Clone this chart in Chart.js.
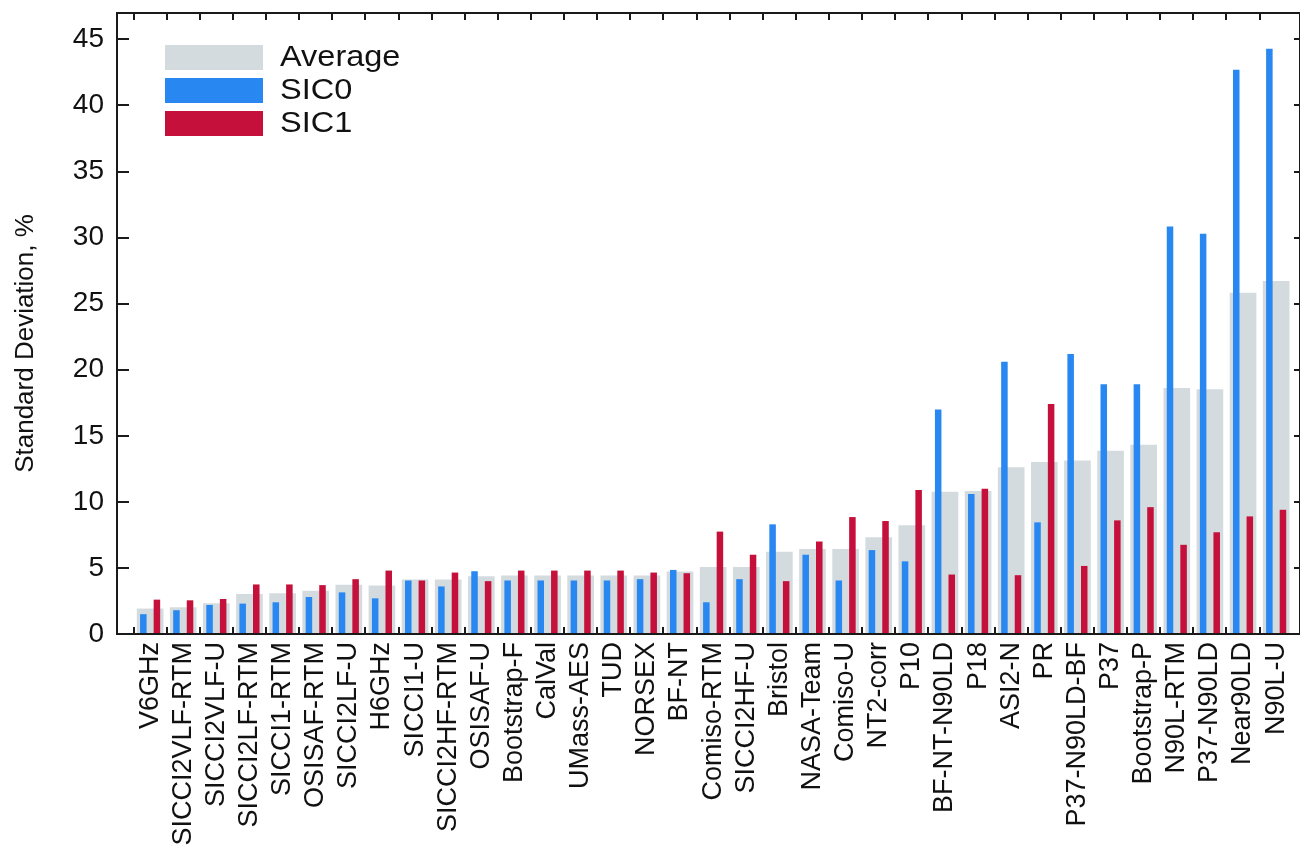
<!DOCTYPE html>
<html>
<head>
<meta charset="utf-8">
<title>Standard deviation by algorithm</title>
<script src="https://cdn.jsdelivr.net/npm/chart.js@4.4.1/dist/chart.umd.min.js"></script>
<style>
  html, body { margin: 0; padding: 0; background: #ffffff; }
  #wrap { width: 1300px; height: 849px; }
</style>
</head>
<body>
<div id="wrap"><canvas id="chart" width="1300" height="849"></canvas></div>
<script>
// Algorithms, ordered by their average standard deviation
const categories = [
  'V6GHz', 'SICCI2VLF-RTM', 'SICCI2VLF-U', 'SICCI2LF-RTM', 'SICCI1-RTM',
  'OSISAF-RTM', 'SICCI2LF-U', 'H6GHz', 'SICCI1-U', 'SICCI2HF-RTM',
  'OSISAF-U', 'Bootstrap-F', 'CalVal', 'UMass-AES', 'TUD',
  'NORSEX', 'BF-NT', 'Comiso-RTM', 'SICCI2HF-U', 'Bristol',
  'NASA-Team', 'Comiso-U', 'NT2-corr', 'P10', 'BF-NT-N90LD',
  'P18', 'ASI2-N', 'PR', 'P37-N90LD-BF', 'P37',
  'Bootstrap-P', 'N90L-RTM', 'P37-N90LD', 'Near90LD', 'N90L-U'
];

// Standard deviation, %
const averageValues = [
  1.9, 2.0, 2.3, 3.0, 3.05,
  3.25, 3.7, 3.65, 4.1, 4.1,
  4.35, 4.4, 4.4, 4.4, 4.4,
  4.4, 4.7, 5.05, 5.05, 6.2,
  6.4, 6.4, 7.3, 8.2, 10.75,
  10.8, 12.6, 13.0, 13.1, 13.85,
  14.3, 18.6, 18.5, 25.8, 26.7
];
const sic0Values = [
  1.5, 1.8, 2.2, 2.3, 2.4,
  2.8, 3.15, 2.7, 4.05, 3.6,
  4.75, 4.05, 4.05, 4.05, 4.05,
  4.15, 4.85, 2.4, 4.15, 8.3,
  6.0, 4.05, 6.35, 5.5, 17.0,
  10.6, 20.6, 8.45, 21.2, 18.9,
  18.9, 30.85, 30.3, 42.7, 44.3
];
const sic1Values = [
  2.6, 2.55, 2.65, 3.75, 3.75,
  3.7, 4.15, 4.8, 4.05, 4.65,
  4.0, 4.8, 4.8, 4.8, 4.8,
  4.65, 4.6, 7.75, 6.0, 4.0,
  7.0, 8.85, 8.55, 10.9, 4.5,
  11.0, 4.45, 17.4, 5.15, 8.6,
  9.6, 6.75, 7.7, 8.9, 9.4
];

const yTickValues = [0, 5, 10, 15, 20, 25, 30, 35, 40, 45];
const seriesLabels = ['Average', 'SIC0', 'SIC1'];
const yAxisTitle = 'Standard Deviation, %';

const COLORS = {
  average: 'rgb(211, 219, 223)',
  sic0: 'rgb(40, 135, 240)',
  sic1: 'rgb(196, 16, 58)',
  ink: '#111111'
};
const FONT_FAMILY = '"Liberation Sans", Arial, Helvetica, sans-serif';

// Each algorithm sits at an integer position on a linear x axis
const toPoints = values => values.map((v, i) => ({ x: i + 1, y: v }));

// Box around the plot with inward-pointing tick marks on all four sides
const framePlugin = {
  id: 'frame',
  afterDatasetsDraw(chart) {
    const { ctx, chartArea: a, scales: { x, y } } = chart;
    ctx.save();
    ctx.strokeStyle = '#1a1a1a';
    ctx.lineWidth = 2;
    ctx.strokeRect(a.left, a.top, a.right - a.left, a.bottom - a.top);
    ctx.beginPath();
    yTickValues.forEach(v => {
      const py = Math.round(y.getPixelForValue(v));
      ctx.moveTo(a.left, py); ctx.lineTo(a.left + 12, py);
      ctx.moveTo(a.right, py); ctx.lineTo(a.right - 6, py);
    });
    categories.forEach((c, i) => {
      const px = Math.round(x.getPixelForValue(i + 0.5));
      ctx.moveTo(px, a.bottom); ctx.lineTo(px, a.bottom - 7);
      ctx.moveTo(px, a.top); ctx.lineTo(px, a.top + 7);
    });
    ctx.stroke();
    ctx.restore();
  }
};

// Vertical axis title, set a little below the middle of the plot
const axisTitlePlugin = {
  id: 'axisTitle',
  afterDraw(chart) {
    const { ctx, chartArea: a } = chart;
    ctx.save();
    ctx.translate(26, (a.top + a.bottom) / 2 + 20);
    ctx.rotate(-Math.PI / 2);
    ctx.font = '26px ' + FONT_FAMILY;
    ctx.fillStyle = COLORS.ink;
    ctx.textAlign = 'center';
    ctx.textBaseline = 'middle';
    ctx.fillText(yAxisTitle, 0, 0);
    ctx.restore();
  }
};

// Legend drawn inside the upper-left corner of the plot
const insideLegendPlugin = {
  id: 'insideLegend',
  afterDatasetsDraw(chart) {
    const { ctx, chartArea: a } = chart;
    ctx.save();
    ctx.font = '29px ' + FONT_FAMILY;
    ctx.textBaseline = 'middle';
    ctx.textAlign = 'left';
    chart.data.datasets.forEach((ds, i) => {
      const x0 = a.left + 48;
      const y0 = a.top + 32 + i * 33;
      ctx.fillStyle = ds.backgroundColor;
      ctx.fillRect(x0, y0, 98, 25);
      ctx.fillStyle = COLORS.ink;
      ctx.save();
      ctx.translate(x0 + 115, y0 + 13);
      ctx.scale(1.12, 1);
      ctx.fillText(ds.label, 0, 0);
      ctx.restore();
    });
    ctx.restore();
  }
};

new Chart(document.getElementById('chart'), {
  type: 'bar',
  data: {
    datasets: [
      {
        label: seriesLabels[0],
        data: toPoints(averageValues),
        backgroundColor: COLORS.average,
        grouped: false,
        barThickness: 26,
        order: 1
      },
      {
        label: seriesLabels[1],
        data: toPoints(sic0Values),
        backgroundColor: COLORS.sic0,
        categoryPercentage: 0.82,
        barPercentage: 0.48,
        order: 0
      },
      {
        label: seriesLabels[2],
        data: toPoints(sic1Values),
        backgroundColor: COLORS.sic1,
        categoryPercentage: 0.82,
        barPercentage: 0.48,
        order: 0
      }
    ]
  },
  options: {
    responsive: false,
    animation: false,
    layout: { padding: { top: 13, right: 0, bottom: 0, left: 0 } },
    plugins: {
      legend: { display: false },
      tooltip: { enabled: false }
    },
    scales: {
      x: {
        type: 'linear',
        min: 0,
        max: 35.72,
        offset: false,
        grid: { display: false, drawTicks: false },
        border: { display: false },
        afterBuildTicks: scale => {
          scale.ticks = categories.map((c, i) => ({ value: i + 1 }));
        },
        afterFit: scale => {
          scale.height = 215;
          scale.paddingLeft = 0;
          scale.paddingRight = 0;
        },
        ticks: {
          autoSkip: false,
          minRotation: 90,
          maxRotation: 90,
          padding: 8,
          color: COLORS.ink,
          font: { family: FONT_FAMILY, size: 27 },
          callback: value => categories[Math.round(value) - 1] || ''
        }
      },
      y: {
        min: 0,
        max: 47,
        grid: { display: false, drawTicks: false },
        border: { display: false },
        afterBuildTicks: scale => {
          scale.ticks = yTickValues.map(v => ({ value: v }));
        },
        afterFit: scale => {
          scale.width = 117;
          scale.paddingTop = 0;
          scale.paddingBottom = 0;
        },
        ticks: {
          padding: 13,
          color: COLORS.ink,
          font: { family: FONT_FAMILY, size: 28 }
        }
      }
    }
  },
  plugins: [framePlugin, insideLegendPlugin, axisTitlePlugin]
});
</script>
</body>
</html>
